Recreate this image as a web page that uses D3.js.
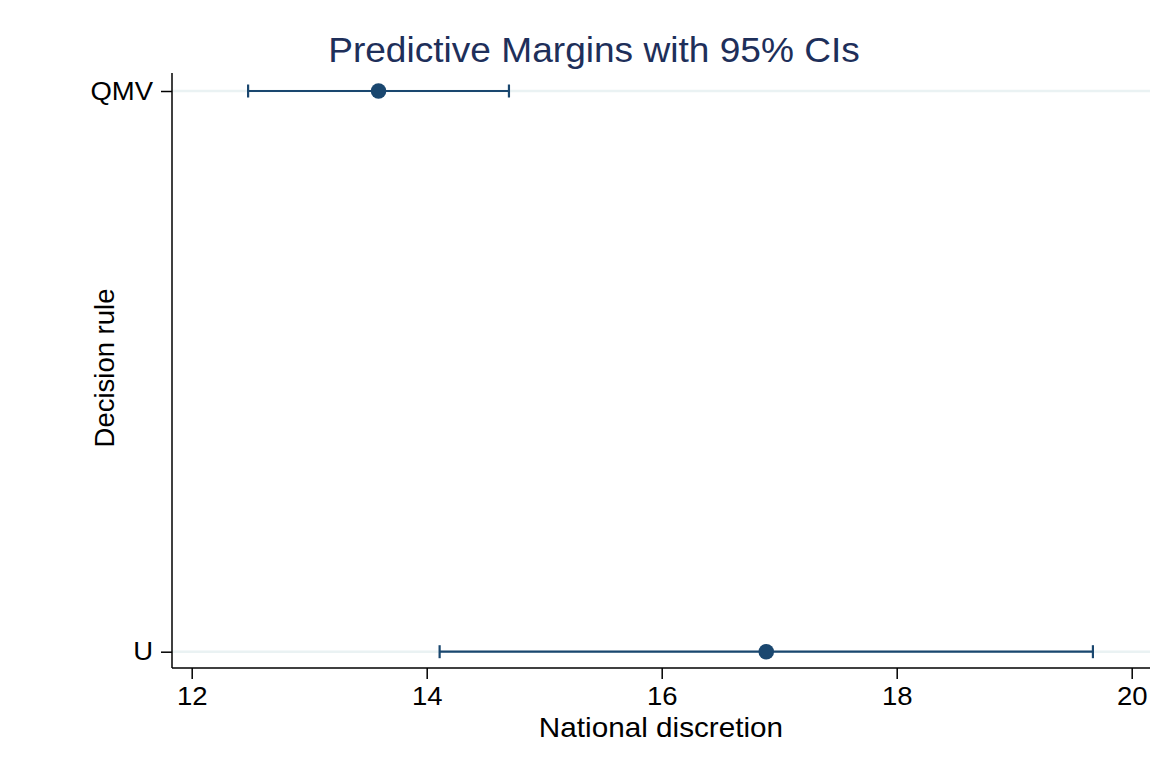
<!DOCTYPE html>
<html>
<head>
<meta charset="utf-8">
<script src="https://cdn.jsdelivr.net/npm/d3@7"></script>
<style>
  body { margin: 0; background: #fff; }
  text { font-family: "Liberation Sans", Arial, sans-serif; }
</style>
</head>
<body>
<div id="chart"></div>
<script>
const categories = ["U", "QMV"];
const margins = [16.89, 13.59];
const ciLow = [14.11, 12.48];
const ciHigh = [19.67, 14.70];
const xTicks = [12, 14, 16, 18, 20];

const width = 1168,
  height = 767,
  plot = { left: 172, right: 1150, top: 73, bottom: 668 },
  navy = "#1a476f",
  stretch = 1.1;

const x = d3.scaleLinear().domain([12, 20]).range([191.7, 1131.7]);
const y = d3
  .scalePoint()
  .domain(categories)
  .range([651.7, 91]);

const svg = d3
  .select("#chart")
  .append("svg")
  .attr("width", width)
  .attr("height", height);

svg.append("rect").attr("width", width).attr("height", height).attr("fill", "#fff");

// gridlines
svg
  .append("g")
  .selectAll("line")
  .data(categories)
  .join("line")
  .attr("x1", plot.left)
  .attr("x2", plot.right)
  .attr("y1", d => y(d))
  .attr("y2", d => y(d))
  .attr("stroke", "#eaf2f3")
  .attr("stroke-width", 2.5);

// x axis
const xAxis = svg
  .append("g")
  .attr("transform", "translate(0," + plot.bottom + ")")
  .call(d3.axisBottom(x).tickValues(xTicks).tickSize(11).tickSizeOuter(0).tickPadding(8));
xAxis.select(".domain").attr("d", "M" + plot.left + ",0H" + plot.right).attr("stroke", "#000").attr("stroke-width", 1.5);
xAxis.selectAll(".tick line").attr("stroke", "#000").attr("stroke-width", 1.5);
xAxis.selectAll(".tick text")
  .attr("font-size", 25)
  .attr("fill", "#000")
  .attr("transform", "scale(" + stretch + ",1)");

// y axis
const yAxis = svg
  .append("g")
  .attr("transform", "translate(" + plot.left + ",0)")
  .call(d3.axisLeft(y).tickSize(11).tickSizeOuter(0).tickPadding(8));
yAxis.select(".domain").attr("d", "M0," + plot.top + "V" + plot.bottom).attr("stroke", "#000").attr("stroke-width", 1.5);
yAxis.selectAll(".tick line").attr("stroke", "#000").attr("stroke-width", 1.5);
yAxis.selectAll(".tick text")
  .attr("font-size", 25)
  .attr("fill", "#000")
  .attr("x", -19 / stretch)
  .attr("transform", "scale(" + stretch + ",1)");

// CI bars
const rows = categories.map((c, i) => ({ c, m: margins[i], lo: ciLow[i], hi: ciHigh[i] }));
const g = svg.append("g");
g.selectAll("line.ci")
  .data(rows)
  .join("line")
  .attr("class", "ci")
  .attr("x1", d => x(d.lo))
  .attr("x2", d => x(d.hi))
  .attr("y1", d => y(d.c))
  .attr("y2", d => y(d.c))
  .attr("stroke", navy)
  .attr("stroke-width", 2.2);
["lo", "hi"].forEach(k => {
  g.selectAll("line.cap-" + k)
    .data(rows)
    .join("line")
    .attr("class", "cap-" + k)
    .attr("x1", d => x(d[k]))
    .attr("x2", d => x(d[k]))
    .attr("y1", d => y(d.c) - 6.5)
    .attr("y2", d => y(d.c) + 6.5)
    .attr("stroke", navy)
    .attr("stroke-width", 2.2);
});
g.selectAll("circle")
  .data(rows)
  .join("circle")
  .attr("cx", d => x(d.m))
  .attr("cy", d => y(d.c))
  .attr("r", 7.8)
  .attr("fill", navy);

// titles
svg
  .append("text")
  .attr("transform", "translate(594,62) scale(1.06,1)")
  .attr("text-anchor", "middle")
  .attr("font-size", 35)
  .attr("fill", "#1e2f5a")
  .text("Predictive Margins with 95% CIs");

svg
  .append("text")
  .attr("transform", "translate(661,737) scale(" + stretch + ",1)")
  .attr("text-anchor", "middle")
  .attr("font-size", 27)
  .attr("fill", "#000")
  .text("National discretion");

svg
  .append("text")
  .attr("transform", "translate(114,368) rotate(-90)")
  .attr("text-anchor", "middle")
  .attr("font-size", 27.5)
  .attr("fill", "#000")
  .text("Decision rule");
</script>
</body>
</html>
